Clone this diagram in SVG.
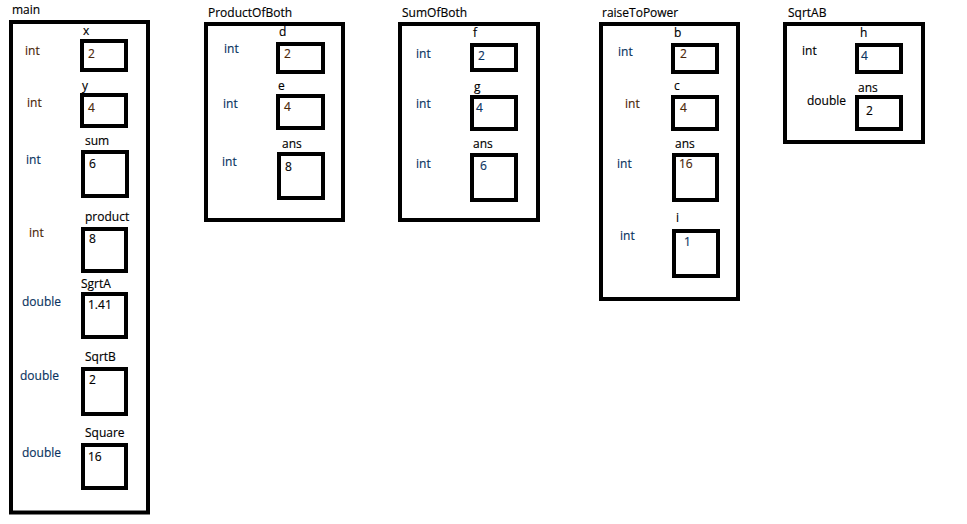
<svg xmlns="http://www.w3.org/2000/svg" width="967" height="524" viewBox="0 0 967 524">
<style>
rect{fill:none;stroke:#000;stroke-width:4}
text{font-family:"Open Sans","Noto Sans",sans-serif;font-size:12px;fill:#000;stroke:currentColor;stroke-width:0.15}
.b{fill:#0a3360;color:#0a3360}
.r{fill:#4a2608;color:#4a2608}
</style>
<rect x="0" y="0" width="967" height="524" style="fill:#fff;stroke:none"/>
<g id="main">
<text x="12" y="14">main</text>
<rect x="11" y="22" width="137" height="490.5"/>
<text x="83" y="35">x</text><rect x="82" y="41" width="44" height="29"/><text class="r" x="88" y="58">2</text><text class="r" x="25" y="55">int</text>
<text x="82" y="90">y</text><rect x="82" y="95" width="44" height="31"/><text class="r" x="88" y="112">4</text><text class="r" x="27" y="107">int</text>
<text x="85" y="145">sum</text><rect x="83" y="152" width="44" height="44"/><text x="89" y="168">6</text><text class="b" x="26" y="164">int</text>
<text x="85" y="221">product</text><rect x="83" y="229" width="43" height="42"/><text x="89" y="243">8</text><text class="r" x="29" y="237">int</text>
<text x="81" y="288">SgrtA</text><rect x="83" y="294" width="43" height="43"/><text x="88" y="309">1.41</text><text class="b" x="22" y="306">double</text>
<text x="85" y="361">SqrtB</text><rect x="83" y="369" width="43" height="45"/><text x="89" y="384">2</text><text class="b" x="20" y="380">double</text>
<text x="85" y="437">Square</text><rect x="83" y="445" width="43" height="43"/><text x="88" y="461">16</text><text class="b" x="22" y="457">double</text>
</g>
<g id="ProductOfBoth">
<text x="208" y="17">ProductOfBoth</text>
<rect x="206" y="24" width="137" height="196"/>
<text x="279" y="36">d</text><rect x="278" y="44" width="45" height="28"/><text class="r" x="284" y="58">2</text><text class="b" x="224" y="53">int</text>
<text x="278" y="90">e</text><rect x="278" y="96" width="45" height="32"/><text class="r" x="284" y="111">4</text><text class="b" x="223" y="108">int</text>
<text x="282" y="148">ans</text><rect x="279" y="154" width="44" height="44"/><text x="285" y="171">8</text><text class="b" x="222" y="166">int</text>
</g>
<g id="SumOfBoth">
<text x="402" y="17">SumOfBoth</text>
<rect x="400" y="24" width="138" height="196"/>
<text x="473" y="37">f</text><rect x="472" y="45" width="44" height="25"/><text class="b" x="478" y="60">2</text><text class="b" x="416" y="58">int</text>
<text x="474" y="91">g</text><rect x="472" y="97" width="44" height="32"/><text class="b" x="476" y="112">4</text><text class="b" x="416" y="108">int</text>
<text x="473" y="148">ans</text><rect x="472" y="155" width="44" height="45"/><text class="b" x="480" y="170">6</text><text class="b" x="416" y="168">int</text>
</g>
<g id="raiseToPower">
<text x="602" y="17">raiseToPower</text>
<rect x="601" y="24" width="137" height="275"/>
<text x="674" y="37">b</text><rect x="673" y="45" width="44" height="27"/><text class="r" x="680" y="58">2</text><text class="b" x="618" y="56">int</text>
<text x="674" y="90">c</text><rect x="673" y="97" width="44" height="32"/><text class="r" x="680" y="112">4</text><text class="r" x="625" y="108">int</text>
<text x="675" y="148">ans</text><rect x="674" y="155" width="43" height="45"/><text class="r" x="679" y="168">16</text><text class="b" x="617" y="168">int</text>
<text x="676" y="222">i</text><rect x="674" y="231" width="44" height="45"/><text class="b" x="684" y="246">1</text><text class="b" x="620" y="240">int</text>
</g>
<g id="SqrtAB">
<text x="788" y="17">SqrtAB</text>
<rect x="785" y="24" width="138" height="118"/>
<text x="860" y="37">h</text><rect x="857" y="45" width="44" height="27"/><text class="b" x="861" y="60">4</text><text x="802" y="55">int</text>
<text x="858" y="92">ans</text><rect x="857" y="97" width="44" height="32"/><text x="866" y="115">2</text><text x="807" y="105">double</text>
</g>
<g id="connectors"></g>
</svg>
